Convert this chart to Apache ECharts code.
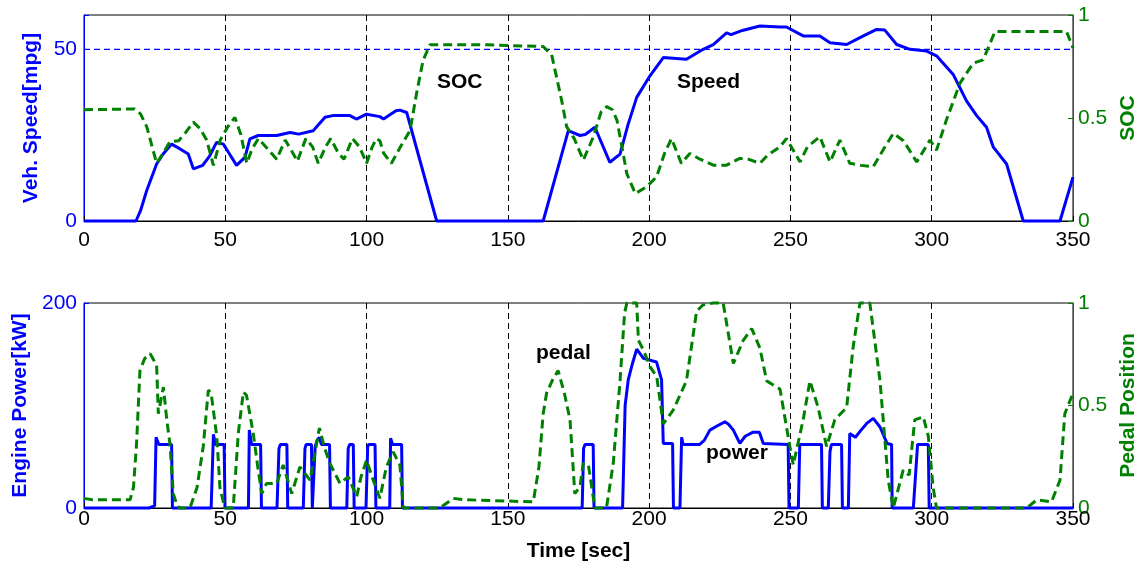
<!DOCTYPE html>
<html>
<head>
<meta charset="utf-8">
<script src="https://cdn.jsdelivr.net/npm/echarts@6/dist/echarts.min.js"></script>
<style>
  html, body { margin: 0; padding: 0; background: #fff; }
  #main { width: 1139px; height: 566px; }
</style>
</head>
<body>
<div id="main"></div>
<script>
// top plot: vehicle speed (left) and SOC (right)
const speedTime = [0, 18.4, 20, 22.2, 25.7, 28, 31, 34, 36.9, 38.7, 42, 44.5, 46.9, 49.3, 51.5, 54, 57, 58.7, 61.7, 68.2, 72.9, 76, 81.1, 85.3, 88, 94.1, 96.4, 100, 104.7, 106, 110.4, 111.8, 114.2, 124.8, 162.5, 171.4, 175.5, 177.4, 180.8, 186.1, 189.7, 192.5, 195.6, 200.3, 205, 213.2, 219.1, 222.7, 227.4, 229, 233, 239.2, 246.3, 248.6, 254.5, 260.4, 264, 269.9, 274.6, 280.5, 283.4, 287.6, 292.3, 298.2, 301.7, 307.6, 312.3, 315.9, 319.4, 321.8, 326.5, 332.4, 345.4, 350];
const speed = [0, 0, 3, 8.9, 16.6, 19.5, 22.4, 21, 19.5, 15.2, 16.2, 19, 22.9, 22.4, 19.5, 16.2, 18.6, 23.9, 24.9, 24.9, 25.8, 25.3, 26.3, 30.2, 30.7, 30.7, 29.7, 31.1, 30.4, 29.7, 32.1, 32.3, 31.6, 0, 0, 26.3, 24.9, 25.2, 27.3, 17.1, 19.5, 28, 36, 42.3, 47.6, 47.1, 50, 51.4, 54.8, 54.3, 55.5, 56.8, 56.5, 56.5, 53.9, 53.9, 51.9, 51.4, 53.4, 55.8, 55.6, 51.4, 50, 49.5, 48.1, 42.7, 35, 30.7, 27.3, 21.5, 16.6, 0, 0, 12.8];
const speedRef = 50;

const socTime = [0, 17.9, 20, 22.2, 25.7, 28, 30.4, 33.5, 36, 38.7, 41, 43.4, 45.8, 48.2, 51, 53.4, 55.5, 57.6, 59.5, 61.7, 65, 68.2, 71.2, 73.5, 75.5, 78.5, 80.9, 82.9, 85.5, 87.3, 90, 92, 95, 97.5, 100, 102, 103.5, 104.7, 106, 108.8, 112, 115.4, 117.7, 120, 122.4, 142.5, 162.5, 165.5, 169, 170.8, 173.5, 176.7, 180.3, 183, 185, 187, 188.6, 190.5, 192.1, 195.1, 199.1, 202.6, 205.5, 207.9, 211.4, 214.4, 218, 222.7, 227.4, 232.1, 235, 239.2, 242, 246.3, 248.6, 253.4, 256, 260.4, 264, 267.5, 271, 275, 279.3, 283, 286.4, 290, 294.7, 299.4, 301.7, 305.2, 310, 314.7, 318.2, 322.4, 347.7, 350];
const soc = [0.54, 0.544, 0.52, 0.458, 0.28, 0.33, 0.385, 0.39, 0.43, 0.48, 0.45, 0.393, 0.27, 0.393, 0.46, 0.503, 0.42, 0.28, 0.35, 0.40, 0.35, 0.30, 0.393, 0.34, 0.29, 0.40, 0.36, 0.28, 0.36, 0.40, 0.33, 0.30, 0.40, 0.36, 0.28, 0.36, 0.40, 0.39, 0.33, 0.28, 0.36, 0.44, 0.62, 0.78, 0.855, 0.855, 0.847, 0.807, 0.588, 0.458, 0.40, 0.296, 0.41, 0.53, 0.555, 0.54, 0.49, 0.35, 0.23, 0.133, 0.166, 0.214, 0.33, 0.40, 0.28, 0.328, 0.30, 0.271, 0.271, 0.304, 0.30, 0.28, 0.32, 0.36, 0.40, 0.287, 0.36, 0.409, 0.287, 0.393, 0.28, 0.27, 0.263, 0.35, 0.425, 0.39, 0.287, 0.393, 0.344, 0.49, 0.669, 0.766, 0.782, 0.92, 0.92, 0.84];

// bottom plot: engine power (left) and pedal position (right)
const powerTime = [0, 23, 25, 25.5, 26.5, 31, 31.3, 45, 45.8, 46.5, 49.6, 49.9, 58.2, 58.5, 59.3, 62.5, 62.8, 68.3, 69, 69.5, 71.8, 72.1, 77.6, 78.2, 78.6, 80.5, 80.8, 81.4, 81.8, 82.5, 83.3, 84, 86.9, 87.2, 93, 93.5, 94, 95.3, 95.6, 99.8, 100.4, 100.8, 103, 103.3, 108.2, 108.5, 109.2, 112.4, 112.7, 176.3, 176.8, 177.3, 180.2, 180.5, 190.6, 191.5, 192.6, 194, 195.6, 198, 202.6, 204.4, 205, 208.3, 208.6, 210.9, 211.5, 212, 217.9, 219.5, 221.5, 224, 226.8, 228, 229.8, 232.1, 234, 236.8, 239, 240.4, 249.2, 249.5, 252.8, 253.3, 261, 261.3, 263.4, 264, 264.5, 268.1, 268.4, 270.5, 271, 273, 275, 277, 279.3, 281.7, 284.2, 285.8, 286, 293.5, 295, 298.8, 299.1, 350];
const power = [0, 0, 2, 69, 62, 62, 0, 0, 72, 62, 62, 0, 0, 76, 62, 62, 0, 0, 58, 62, 62, 0, 0, 58, 62, 62, 0, 0, 60, 66, 69, 62, 62, 0, 0, 58, 62, 62, 0, 0, 60, 62, 62, 0, 0, 68, 62, 62, 0, 0, 58, 62, 62, 0, 0, 100, 125, 140, 155, 146, 142.5, 125, 63, 63, 0, 0, 69, 62, 62, 66, 76, 80, 84, 82, 76, 63, 70, 74, 74, 63, 62, 0, 0, 62, 62, 0, 0, 55, 62, 62, 0, 0, 72.7, 69, 76, 82.5, 87.4, 79, 63, 62, 0, 0, 62, 62, 0, 0];

const pedalTime = [0, 3, 16.3, 17.5, 18.6, 19.8, 21.5, 23.4, 25.7, 26.3, 28.1, 29.3, 30.4, 31.6, 33, 34, 37.5, 40, 42.2, 44, 45, 47, 48.1, 49.8, 52.8, 53.8, 54.6, 56.4, 57.5, 59.9, 61.5, 62.9, 64.6, 68.2, 70.5, 73.5, 76.4, 80, 81.5, 83.3, 85, 87, 90.6, 93.5, 96.5, 98, 100, 102, 104.7, 107, 109.4, 111.8, 113, 126, 130.7, 135, 159, 161, 162.5, 163.7, 166, 167.8, 170, 172, 173.7, 175.5, 176.7, 178.5, 180.8, 184.9, 187.3, 189.7, 191.3, 192.1, 195.6, 196.2, 198, 200.3, 202.7, 205, 208.5, 213.2, 216.8, 219, 222.7, 226.2, 229.8, 233.3, 236.3, 239.2, 241.6, 246.3, 249.8, 251, 254.5, 256.9, 259.8, 262.8, 265.7, 269.9, 272.2, 274.6, 278.1, 281.7, 284.6, 286.4, 289.9, 292, 294, 297, 298.8, 300.5, 301.7, 333.6, 337.2, 342.4, 345.4, 347.1, 350];
const pedal = [0.047, 0.04, 0.04, 0.1, 0.315, 0.67, 0.73, 0.753, 0.697, 0.46, 0.59, 0.43, 0.315, 0.07, 0.01, 0, 0, 0.1, 0.3, 0.575, 0.56, 0.347, 0.1, 0, 0, 0.2, 0.364, 0.566, 0.55, 0.364, 0.2, 0.07, 0.12, 0.12, 0.21, 0.07, 0.2, 0.136, 0.25, 0.39, 0.3, 0.218, 0.12, 0.153, 0.055, 0.15, 0.234, 0.15, 0.047, 0.2, 0.274, 0.21, 0, 0, 0.047, 0.04, 0.03, 0.2, 0.46, 0.56, 0.63, 0.67, 0.56, 0.43, 0.07, 0.104, 0.218, 0.21, 0, 0, 0.218, 0.62, 0.95, 1, 1, 0.818, 0.77, 0.69, 0.64, 0.41, 0.477, 0.62, 0.96, 0.99, 1, 1, 0.705, 0.818, 0.875, 0.78, 0.62, 0.58, 0.3, 0.21, 0.43, 0.62, 0.49, 0.3, 0.43, 0.49, 0.786, 1, 1, 0.62, 0.136, 0, 0.185, 0.16, 0.43, 0.445, 0.35, 0.1, 0, 0, 0.04, 0.03, 0.136, 0.46, 0.56];

const BLUE = '#0000ff';
const GREEN = '#008000';
const FONT = 'Liberation Sans';

function zip(xs, ys) {
  return xs.map((x, i) => [x, ys[i]]);
}

function xAxisFor(gridIndex, labelMargin, withName) {
  return {
    type: 'value', gridIndex: gridIndex, min: 0, max: 350, interval: 50,
    axisLine: { show: true, onZero: false, lineStyle: { color: '#000', width: 1 } },
    axisTick: { show: true, inside: true, length: 5, lineStyle: { color: '#000' } },
    axisLabel: { color: '#000', fontSize: 21, fontFamily: FONT, margin: labelMargin },
    splitLine: { show: true, showMinLine: false, showMaxLine: false, lineStyle: { color: '#000', type: [6, 4], width: 1 } },
    name: withName ? 'Time [sec]' : '',
    nameLocation: 'middle', nameGap: 33,
    nameTextStyle: { color: '#000', fontSize: 21, fontWeight: 'bold', fontFamily: FONT }
  };
}

function yAxisFor(gridIndex, side, max, interval, name, color, nameGap) {
  return {
    type: 'value', gridIndex: gridIndex, position: side, min: 0, max: max, interval: interval,
    axisLine: { show: true, onZero: false, lineStyle: { color: color, width: 1 } },
    axisTick: { show: true, inside: true, length: 5, lineStyle: { color: color } },
    axisLabel: {
      color: color, fontSize: 21, fontFamily: FONT, margin: side == 'left' ? 7 : 5,
      // the top of the speed axis (60) carries no label
      formatter: v => (v % interval === 0 ? String(v) : '')
    },
    splitLine: { show: false },
    name: name, nameLocation: 'middle', nameRotate: 90, nameGap: nameGap,
    nameTextStyle: { color: color, fontSize: 21, fontWeight: 'bold', fontFamily: FONT }
  };
}

function lineSeries(xi, yi, data, color, dashed, z, width) {
  return {
    type: 'line', xAxisIndex: xi, yAxisIndex: yi, data: data,
    symbol: 'none', showSymbol: false, clip: false, z: z, silent: true,
    lineStyle: { color: color, width: width || 3, type: dashed ? [9, 5] : 'solid' }
  };
}

// blue dashed reference line at 50 mph, as its own thin series
const refSeries = lineSeries(0, 0, zip([0, 350], [speedRef, speedRef]), BLUE, true, 2, 1.2);
refSeries.lineStyle.type = [6, 4];

const chart = echarts.init(document.getElementById('main'), null, { renderer: 'canvas' });
chart.setOption({
  animation: false,
  backgroundColor: '#fff',
  textStyle: { fontFamily: FONT },
  grid: [
    { left: 84, right: 66, top: 15, height: 206, outerBoundsMode: 'none', containLabel: false,
      show: true, borderColor: '#000', borderWidth: 1, backgroundColor: 'transparent' },
    { left: 84, right: 66, top: 303, height: 205, outerBoundsMode: 'none', containLabel: false,
      show: true, borderColor: '#000', borderWidth: 1, backgroundColor: 'transparent' }
  ],
  xAxis: [xAxisFor(0, 9, false), xAxisFor(1, 1, true)],
  yAxis: [
    yAxisFor(0, 'left', 60, 50, 'Veh. Speed[mpg]', BLUE, 42),
    yAxisFor(0, 'right', 1, 0.5, 'SOC', GREEN, 38),
    yAxisFor(1, 'left', 200, 200, 'Engine Power[kW]', BLUE, 42),
    yAxisFor(1, 'right', 1, 0.5, 'Pedal Position', GREEN, 38)
  ],
  series: [
    refSeries,
    lineSeries(0, 0, zip(speedTime, speed), BLUE, false, 3),
    lineSeries(0, 1, zip(socTime, soc), GREEN, true, 4),
    lineSeries(1, 2, zip(powerTime, power), BLUE, false, 3),
    lineSeries(1, 3, zip(pedalTime, pedal), GREEN, true, 4)
  ],
  graphic: [
    { type: 'text', left: 437, top: 72, style: { text: 'SOC', fontSize: 21, fontWeight: 'bold', fontFamily: FONT, fill: '#000' } },
    { type: 'text', left: 677, top: 72, style: { text: 'Speed', fontSize: 21, fontWeight: 'bold', fontFamily: FONT, fill: '#000' } },
    { type: 'text', left: 536, top: 343, style: { text: 'pedal', fontSize: 21, fontWeight: 'bold', fontFamily: FONT, fill: '#000' } },
    { type: 'text', left: 706, top: 443, style: { text: 'power', fontSize: 21, fontWeight: 'bold', fontFamily: FONT, fill: '#000' } }
  ]
});
</script>
</body>
</html>
